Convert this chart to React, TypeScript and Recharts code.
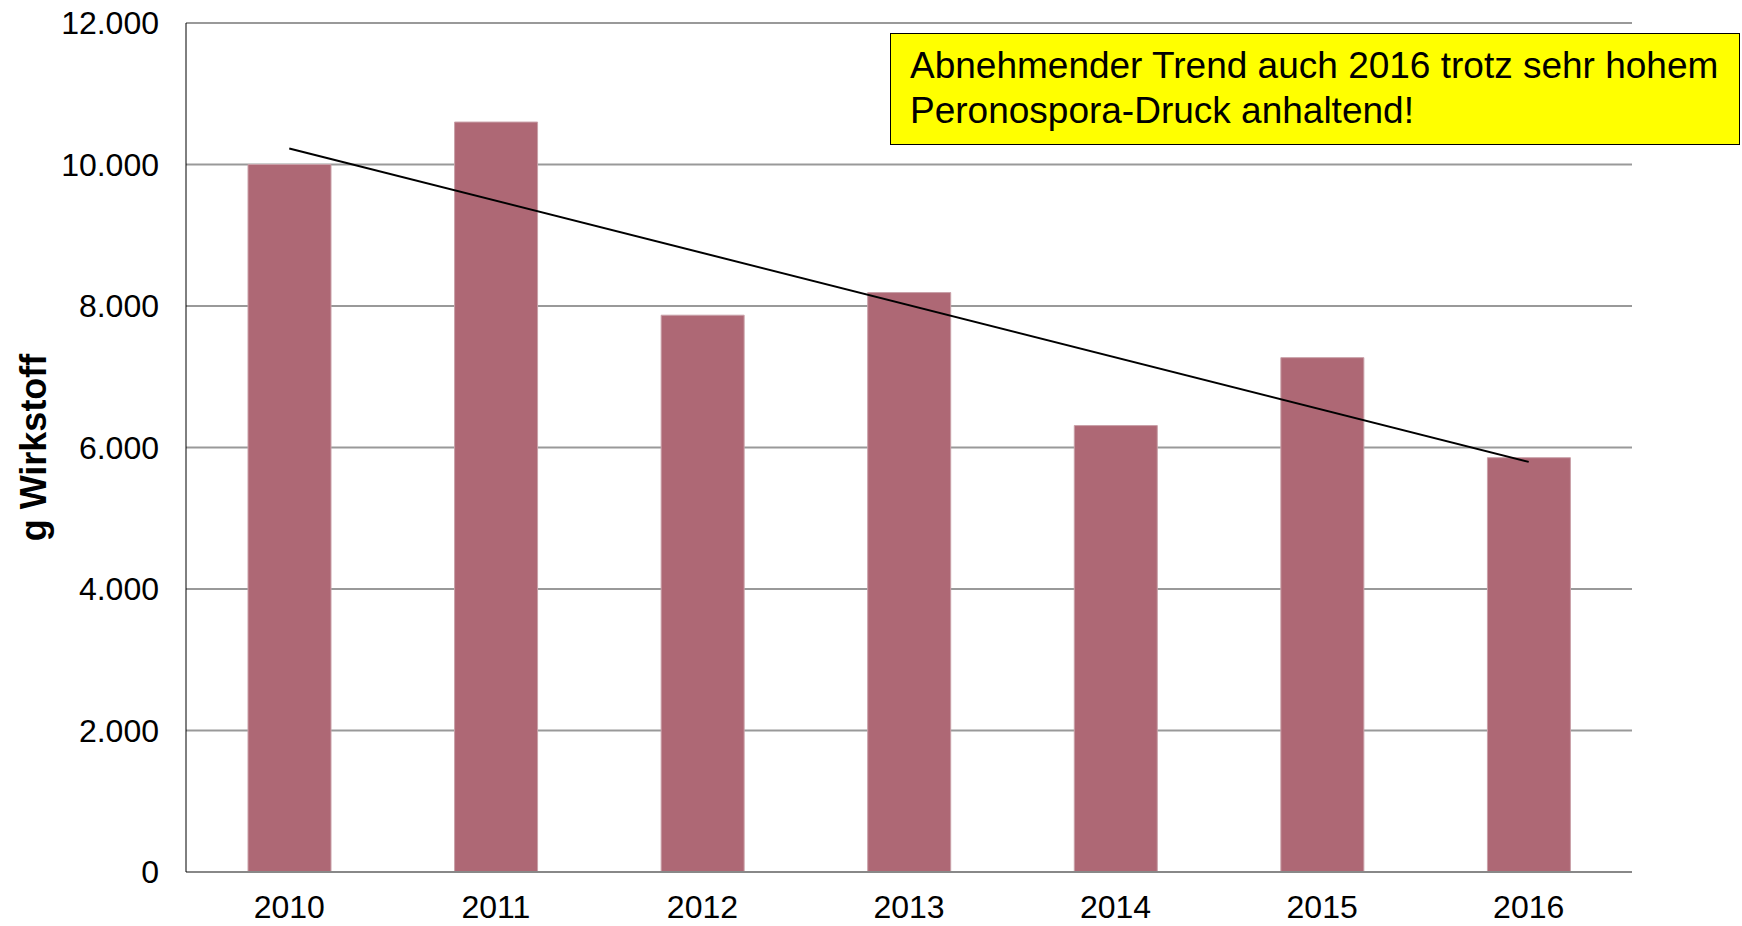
import { ComposedChart, Bar, Line, XAxis, YAxis, CartesianGrid } from 'recharts'

const years = ['2010', '2011', '2012', '2013', '2014', '2015', '2016']
const wirkstoff = [10000, 10600, 7870, 8190, 6310, 7270, 5856]
// trend line: only its two end points
const trend = [10227, null, null, null, null, null, 5797]
const yTicks = [0, 2000, 4000, 6000, 8000, 10000, 12000]

const data = years.map((year, i) => ({ year, value: wirkstoff[i], trend: trend[i] }))

const fmt = (v: number) => (v === 0 ? '0' : `${v / 1000}.000`)

export default function App() {
  return (
    <div style={{ position: 'relative', width: 1742, height: 926, fontFamily: 'Arial, "Liberation Sans", sans-serif' }}>
      <style>{'body{margin:0}'}</style>
      <ComposedChart width={1742} height={926} data={data} margin={{ top: 23, right: 110, bottom: 0, left: 0 }}>
        <CartesianGrid vertical={false} stroke="#999" strokeWidth={2} />
        <XAxis
          dataKey="year"
          height={54}
          tickLine={false}
          tickMargin={17}
          axisLine={{ stroke: '#888', strokeWidth: 2 }}
          tick={{ fill: '#000', fontSize: 32 }}
        />
        <YAxis
          width={186}
          domain={[0, 12000]}
          ticks={yTicks}
          tickFormatter={fmt}
          tickLine={false}
          tickMargin={21}
          axisLine={{ stroke: '#000', strokeWidth: 1 }}
          tick={{ fill: '#000', fontSize: 32 }}
          label={{ value: 'g Wirkstoff', angle: -90, position: 'insideLeft', offset: 33, style: { fontWeight: 'bold', fontSize: 36, fill: '#000', textAnchor: 'middle' } }}
        />
        <Bar dataKey="value" fill="#AE6875" stroke="#C9A0A8" strokeWidth={1} barSize={83} isAnimationActive={false} />
        <Line dataKey="trend" stroke="#000" strokeWidth={2} dot={false} connectNulls isAnimationActive={false} />
      </ComposedChart>
      <div
        style={{
          position: 'absolute', left: 890, top: 33, width: 850, height: 112, boxSizing: 'border-box',
          background: '#FFFF00', border: '1.5px solid #000', padding: '9px 0 0 19px',
          fontSize: 37, lineHeight: '45px', color: '#000',
        }}
      >
        Abnehmender Trend auch 2016 trotz sehr hohem<br />Peronospora-Druck anhaltend!
      </div>
    </div>
  )
}
